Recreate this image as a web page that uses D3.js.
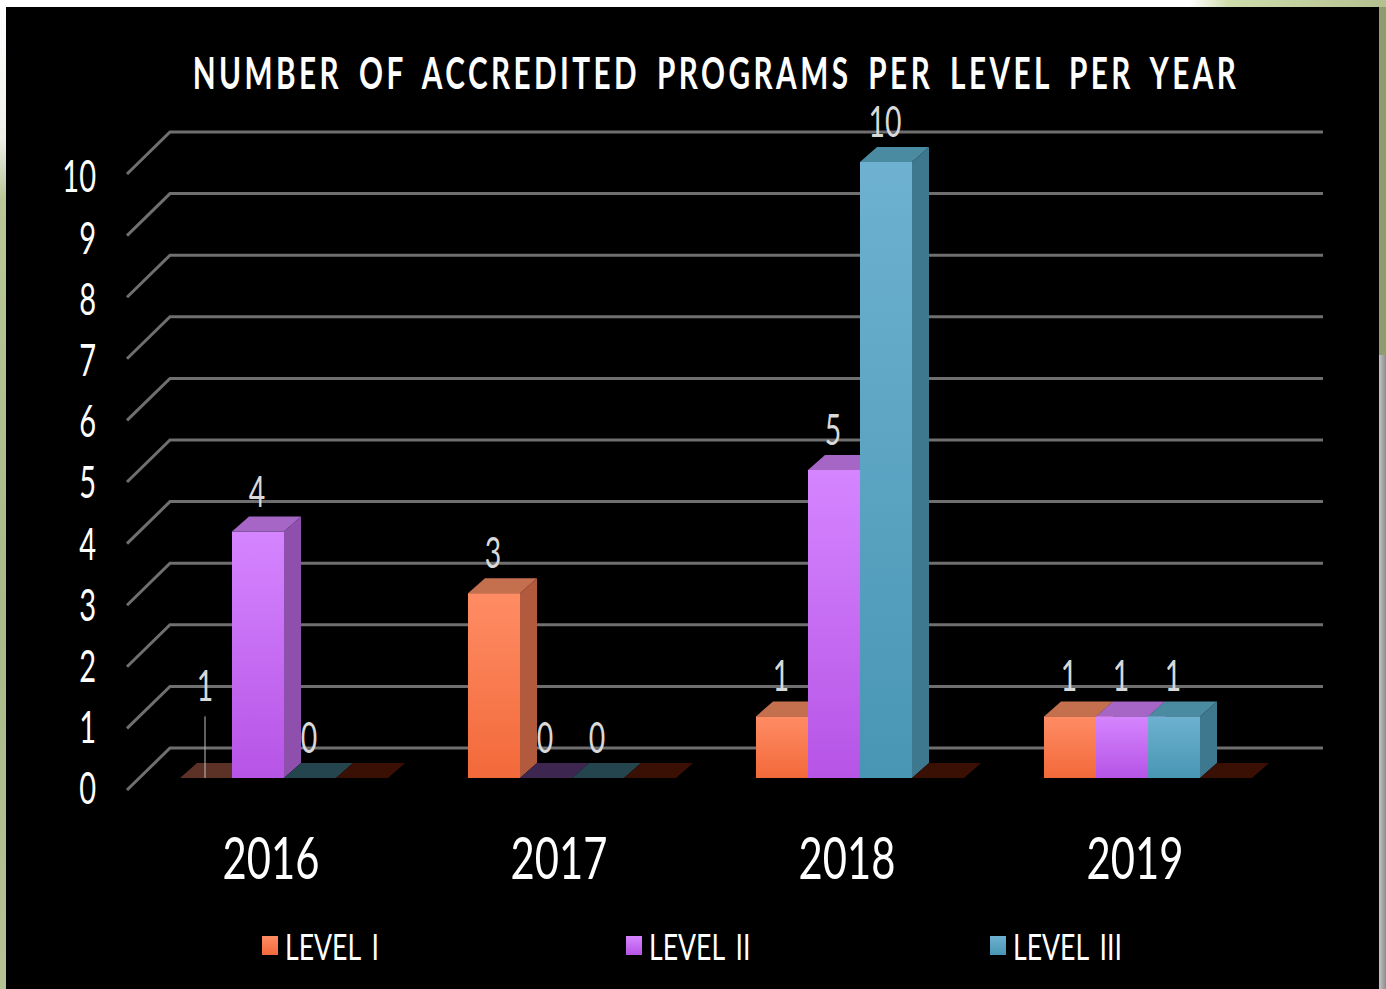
<!DOCTYPE html>
<html>
<head>
<meta charset="utf-8">
<script src="https://cdn.jsdelivr.net/npm/d3@7"></script>
<style>
  html, body { margin: 0; padding: 0; background: #fff; overflow: hidden; }
  text { font-family: Lato, "Liberation Sans", sans-serif; }
</style>
</head>
<body>
<div id="chart"></div>
<script>
var years = ["2016", "2017", "2018", "2019"]
var seriesNames = ["LEVEL I", "LEVEL II", "LEVEL III", "Series 4"]
var legendNames = ["LEVEL I", "LEVEL II", "LEVEL III"]
var levelOne = [0, 3, 1, 1]
var levelTwo = [4, 0, 5, 1]
var levelThree = [0, 0, 10, 1]
var levelFour = [0, 0, 0, 0]
// the 2016 LEVEL I label says 1 although its bar lies flat
var levelOneLabels = ["1", "3", "1", "1"]
var levelTwoLabels = ["4", "0", "5", "1"]
var levelThreeLabels = ["0", "0", "10", "1"]
var levelFourLabels = ["", "", "", ""]
var yTicks = [0, 1, 2, 3, 4, 5, 6, 7, 8, 9, 10]
var titleText = "NUMBER OF ACCREDITED PROGRAMS PER LEVEL PER YEAR"

var seriesValues = [levelOne, levelTwo, levelThree, levelFour]
var seriesLabels = [levelOneLabels, levelTwoLabels, levelThreeLabels, levelFourLabels]

var colors = [
  {top: "#c4704f", side: "#b25a3e", light: "#ff8c64", dark: "#f2693a", flat: "#5c3226"},
  {top: "#a566c6", side: "#8f50ad", light: "#d585ff", dark: "#b654e6", flat: "#3d2650"},
  {top: "#4b8ba2", side: "#3d788f", light: "#6eb1d0", dark: "#4896b4", flat: "#24454d"},
  {top: "#3a1004", side: "#3a1004", light: "#3a1004", dark: "#3a1004", flat: "#3a1004"}
]

// the reference font is much narrower, so squeeze the glyphs
var squeeze = function(sel, factor) {
  sel.each(function() {
    var len = this.getComputedTextLength()
    d3.select(this)
      .attr("textLength", len * factor)
      .attr("lengthAdjust", "spacingAndGlyphs")
  })
}

var svg = d3.select("#chart").append("svg")
  .attr("width", 1386)
  .attr("height", 989)
  .style("display", "block")

var defs = svg.append("defs")
colors.forEach(function(c, i) {
  var g = defs.append("linearGradient")
    .attr("id", "front" + i)
    .attr("x1", 0).attr("y1", 0).attr("x2", 0).attr("y2", 1)
  g.append("stop").attr("offset", "0%").attr("stop-color", c.light)
  g.append("stop").attr("offset", "100%").attr("stop-color", c.dark)
})
var leftG = defs.append("linearGradient")
  .attr("id", "leftStrip")
  .attr("x1", 0).attr("y1", 0).attr("x2", 0).attr("y2", 1)
leftG.append("stop").attr("offset", "0%").attr("stop-color", "#ffffff")
leftG.append("stop").attr("offset", "14%").attr("stop-color", "#eef0e8")
leftG.append("stop").attr("offset", "20%").attr("stop-color", "#b9c799")
leftG.append("stop").attr("offset", "60%").attr("stop-color", "#a9b98a")
leftG.append("stop").attr("offset", "100%").attr("stop-color", "#b5c296")

var rightG = defs.append("linearGradient")
  .attr("id", "rightStrip")
  .attr("x1", 0).attr("y1", 0).attr("x2", 1).attr("y2", 0)
rightG.append("stop").attr("offset", "0%").attr("stop-color", "#c4c4c4")
rightG.append("stop").attr("offset", "100%").attr("stop-color", "#8c8c8c")

var topG = defs.append("linearGradient")
  .attr("id", "topStrip")
  .attr("x1", 0).attr("y1", 0).attr("x2", 1).attr("y2", 0)
topG.append("stop").attr("offset", "0%").attr("stop-color", "#ffffff")
topG.append("stop").attr("offset", "20%").attr("stop-color", "#cfdcab")
topG.append("stop").attr("offset", "100%").attr("stop-color", "#b4c08f")

// page behind the slide
svg.append("rect").attr("x", 0).attr("y", 0).attr("width", 6).attr("height", 989)
  .attr("fill", "url(#leftStrip)")
svg.append("rect").attr("x", 1379).attr("y", 0).attr("width", 7).attr("height", 989)
  .attr("fill", "url(#rightStrip)")
svg.append("rect").attr("x", 1379).attr("y", 0).attr("width", 7).attr("height", 355)
  .attr("fill", "#8f9c70")
svg.append("rect").attr("x", 1190).attr("y", 0).attr("width", 196).attr("height", 7)
  .attr("fill", "url(#topStrip)")
svg.append("rect").attr("x", 6).attr("y", 7).attr("width", 1373).attr("height", 982)
  .attr("fill", "#000")

// scales, front edge of the floor
var x0 = d3.scaleBand().domain(years).range([127, 1279])
var x1 = d3.scaleBand().domain(seriesNames).range([53, 261])
var y = d3.scaleLinear().domain([0, 10]).range([790, 174])
var yLabelScale = d3.scaleLinear().domain([0, 10]).range([789, 177])

var wallDx = 43, wallDy = 42     // front edge to back wall
var barInset = 12                // bars stand this far behind front edge
var barDx = 17, barDy = 15       // depth of a bar

// gridlines
var grid = svg.append("g")
grid.selectAll("polyline")
  .data(yTicks)
  .enter()
  .append("polyline")
  .attr("points", function(d) {
    return [[127, y(d)], [127 + wallDx, y(d) - wallDy], [1323, y(d) - wallDy]].join(" ")
  })
  .attr("fill", "none")
  .attr("stroke", "#6f6f6f")
  .attr("stroke-width", 3)

// y axis, labels only
var yLabels = svg.append("g")
  .attr("transform", "translate(108,0)")
  .call(d3.axisLeft(yLabelScale).tickValues(yTicks).tickSize(0).tickFormat(d3.format("d")))
  .call(function(g) { g.select(".domain").remove() })
  .selectAll("text")
  .attr("fill", "#fff")
  .style("font-size", "44px")
  .attr("x", -12)
  .attr("dy", "0.34em")
squeeze(yLabels, 0.66)

// x axis, labels only
var xLabels = svg.append("g")
  .attr("transform", "translate(0,879)")
  .call(d3.axisBottom(x0).tickSize(0))
  .call(function(g) { g.select(".domain").remove() })
  .selectAll("text")
  .attr("fill", "#fff")
  .attr("y", 0)
  .attr("dy", 0)
  .style("font-size", "58px")
squeeze(xLabels, 0.72)

// one record per bar, left to right
var bars = []
years.forEach(function(yr, i) {
  seriesNames.forEach(function(s, j) {
    bars.push({year: yr, series: s, idx: j, value: seriesValues[j][i], label: seriesLabels[j][i]})
  })
})

var barX = function(d) { return x0(d.year) + x1(d.series) }
var barTop = function(d) { return y(d.value) - barInset }
var barBottom = function() { return y(0) - barInset }
var bw = x1.bandwidth()

var barG = svg.append("g").selectAll("g")
  .data(bars)
  .enter()
  .append("g")

// flat plate for zero values
barG.filter(function(d) { return d.value == 0 })
  .append("polygon")
  .attr("points", function(d) {
    var l = barX(d), b = barBottom()
    return [[l, b], [l + bw, b], [l + bw + barDx, b - barDy], [l + barDx, b - barDy]].join(" ")
  })
  .attr("fill", function(d) { return colors[d.idx].flat })

var solid = barG.filter(function(d) { return d.value > 0 })

solid.append("polygon")
  .attr("points", function(d) {
    var r = barX(d) + bw, t = barTop(d), b = barBottom()
    return [[r, t], [r + barDx, t - barDy], [r + barDx, b - barDy], [r, b]].join(" ")
  })
  .attr("fill", function(d) { return colors[d.idx].side })

solid.append("polygon")
  .attr("points", function(d) {
    var l = barX(d), t = barTop(d)
    return [[l, t], [l + bw, t], [l + bw + barDx, t - barDy], [l + barDx, t - barDy]].join(" ")
  })
  .attr("fill", function(d) { return colors[d.idx].top })

solid.append("rect")
  .attr("x", barX)
  .attr("y", barTop)
  .attr("width", bw)
  .attr("height", function(d) { return barBottom() - barTop(d) })
  .attr("fill", function(d) { return "url(#front" + d.idx + ")" })

// value labels
var labelled = bars.filter(function(d) { return d.label !== "" })
var valueLabels = svg.append("g").selectAll("text")
  .data(labelled)
  .enter()
  .append("text")
  .attr("x", function(d) { return barX(d) + bw / 2 - 1 })
  .attr("y", function(d) {
    var lifted = y(+d.label) - barInset - 25
    // the pulled-down label of the flat bar sits a little lower
    return (d.value == 0 && +d.label > 0) ? lifted + 10 : lifted
  })
  .attr("text-anchor", "middle")
  .attr("fill", "#d9d9d9")
  .style("font-size", "43px")
  .text(function(d) { return d.label })
squeeze(valueLabels, 0.66)

// leader line for the flat 2016 LEVEL I bar
var leader = bars.filter(function(d) { return d.value == 0 && +d.label > 0 })
svg.append("g").selectAll("line")
  .data(leader)
  .enter()
  .append("line")
  .attr("x1", function(d) { return barX(d) + bw / 2 - 1 })
  .attr("x2", function(d) { return barX(d) + bw / 2 - 1 })
  .attr("y1", function(d) { return y(+d.label) - barInset })
  .attr("y2", barBottom)
  .attr("stroke", "#bfbfbf")
  .attr("stroke-width", 1)

// title, scaled to the width it has in the reference
var title = svg.append("text")
  .attr("text-anchor", "middle")
  .attr("fill", "#fff")
  .style("font-size", "43px")
  .style("font-weight", 700)
  .style("letter-spacing", "5px")
  .style("word-spacing", "9px")
  .text(titleText)
var titleScale = 1047 / title.node().getComputedTextLength()
title.attr("transform", "translate(716,89) scale(" + titleScale + ",1)")

// legend
var legendX = d3.scaleBand().domain(legendNames).range([262, 1354])
var legend = svg.append("g").selectAll("g")
  .data(legendNames)
  .enter()
  .append("g")
  .attr("transform", function(d) { return "translate(" + legendX(d) + ",936)" })
legend.append("rect")
  .attr("width", 16)
  .attr("height", 19)
  .attr("fill", function(d, i) { return "url(#front" + i + ")" })
var legendLabels = legend.append("text")
  .attr("x", 23)
  .attr("y", 24)
  .attr("fill", "#fff")
  .style("font-size", "36px")
  .style("word-spacing", "6px")
  .text(function(d) { return d })
squeeze(legendLabels, 0.74)
</script>
</body>
</html>
